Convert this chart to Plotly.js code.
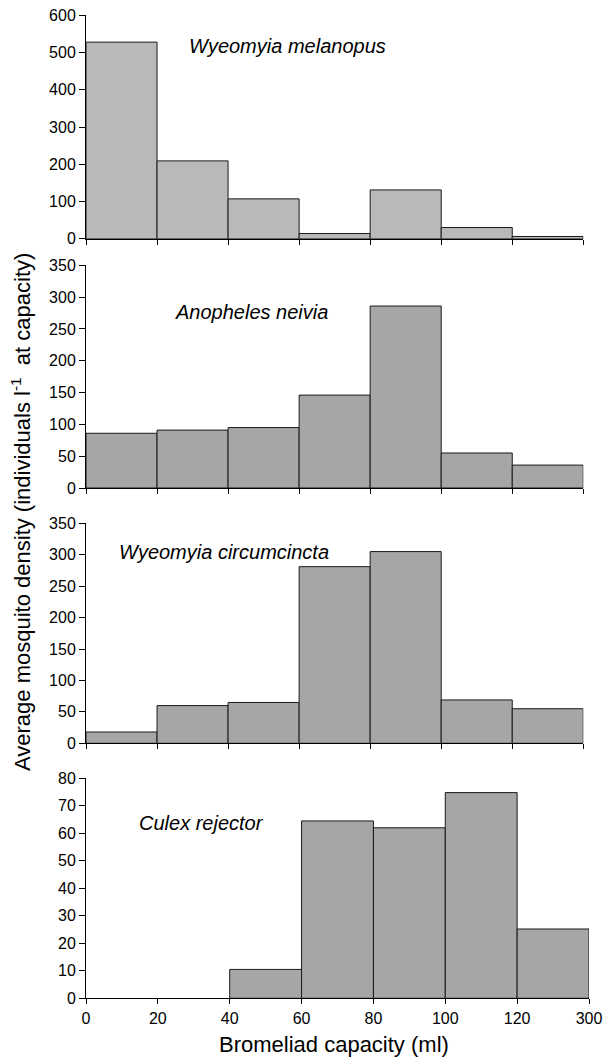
<!DOCTYPE html>
<html>
<head>
<meta charset="utf-8">
<script src="https://cdn.plot.ly/plotly-3.0.1.min.js"></script>
<style>
  html, body { margin: 0; padding: 0; background: #ffffff; }
  #chart { width: 605px; height: 1057px; }
</style>
</head>
<body>
<div id="chart"></div>
<script>
// ---- data ----
const binEdgeLabels = ['0', '20', '40', '60', '80', '100', '120', '300'];
const speciesNames = ['Wyeomyia melanopus', 'Anopheles neivia', 'Wyeomyia circumcincta', 'Culex rejector'];
const melanopusDensity = [528, 209, 107, 14, 131, 30, 6];
const neiviaDensity = [86, 91, 95, 146, 286, 55, 36];
const circumcinctaDensity = [18, 60, 65, 281, 305, 69, 55];
const rejectorDensity = [null, null, 10.5, 64.5, 62, 74.8, 25.2];
const yAxisMax = [600, 350, 350, 80];
const yAxisStep = [100, 50, 50, 10];
const xTitle = 'Bromeliad capacity (ml)';
const yTitle = 'Average mosquito density (individuals l<sup>-1</sup>  at capacity)';

// ---- layout helpers ----
const W = 605, H = 1057;
const px = v => v / W;
const py = v => 1 - v / H;

const series = [melanopusDensity, neiviaDensity, circumcinctaDensity, rejectorDensity];
const fills = ['#b9b9b9', '#a6a6a6', '#a6a6a6', '#a6a6a6'];
// pixel boxes of each panel: [left, right, top, bottom]
const panels = [
  [86, 583.3, 15.3, 238.7],
  [86, 583.3, 265.3, 488],
  [86, 583.3, 523.3, 743.3],
  [86, 589, 778.3, 998.3]
];
const labelPos = [[187.3, 45.5], [173.3, 311.7], [116.7, 551.7], [136.7, 823]];

const binCentres = melanopusDensity.map((_, i) => i + 0.5);
const edgeVals = binEdgeLabels.map((_, i) => i);

const font = 'Liberation Sans, Arial, sans-serif';

const traces = series.map((vals, k) => ({
  type: 'bar',
  x: binCentres,
  y: vals,
  width: 1,
  xaxis: k === 0 ? 'x' : 'x' + (k + 1),
  yaxis: k === 0 ? 'y' : 'y' + (k + 1),
  marker: { color: fills[k], line: { color: '#1a1a1a', width: 1 } },
  hoverinfo: 'none'
}));

const layout = {
  width: W, height: H,
  margin: { l: 0, r: 0, t: 0, b: 0, pad: 0 },
  paper_bgcolor: '#ffffff',
  plot_bgcolor: '#ffffff',
  showlegend: false,
  bargap: 0,
  font: { family: font, color: '#000000', size: 16 },
  annotations: []
};

panels.forEach((p, k) => {
  const xa = k === 0 ? 'xaxis' : 'xaxis' + (k + 1);
  const ya = k === 0 ? 'yaxis' : 'yaxis' + (k + 1);
  layout[xa] = {
    domain: [px(p[0]), px(p[1])],
    anchor: k === 0 ? 'y' : 'y' + (k + 1),
    range: [0, 7],
    tickmode: 'array',
    tickvals: edgeVals,
    ticktext: binEdgeLabels,
    showticklabels: k === 3,
    ticks: 'outside', ticklen: 5, tickwidth: 1, tickcolor: '#000',
    showline: true, linecolor: '#000', linewidth: 1,
    showgrid: false, zeroline: false,
    tickfont: { family: font, size: 16, color: '#000' },
    fixedrange: true
  };
  layout[ya] = {
    domain: [py(p[3]), py(p[2])],
    anchor: k === 0 ? 'x' : 'x' + (k + 1),
    range: [0, yAxisMax[k]],
    tick0: 0, dtick: yAxisStep[k],
    ticks: 'outside', ticklen: 6, tickwidth: 1, tickcolor: '#000',
    showline: true, linecolor: '#000', linewidth: 1,
    showgrid: false, zeroline: false,
    tickfont: { family: font, size: 16, color: '#000' },
    fixedrange: true
  };
  layout.annotations.push({
    xref: 'paper', yref: 'paper',
    x: px(labelPos[k][0]), y: py(labelPos[k][1]),
    xanchor: 'left', yanchor: 'middle',
    text: '<i>' + speciesNames[k] + '</i>',
    showarrow: false,
    font: { family: font, size: 20, color: '#000' }
  });
});

layout.annotations.push({
  xref: 'paper', yref: 'paper',
  x: px(334), y: py(1044),
  xanchor: 'center', yanchor: 'middle',
  text: xTitle, showarrow: false,
  font: { family: font, size: 22, color: '#000' }
});
layout.annotations.push({
  xref: 'paper', yref: 'paper',
  x: px(21), y: py(512),
  xanchor: 'center', yanchor: 'middle',
  textangle: -90,
  text: yTitle, showarrow: false,
  font: { family: font, size: 22, color: '#000' }
});

Plotly.newPlot('chart', traces, layout, { displayModeBar: false, staticPlot: true });
</script>
</body>
</html>
